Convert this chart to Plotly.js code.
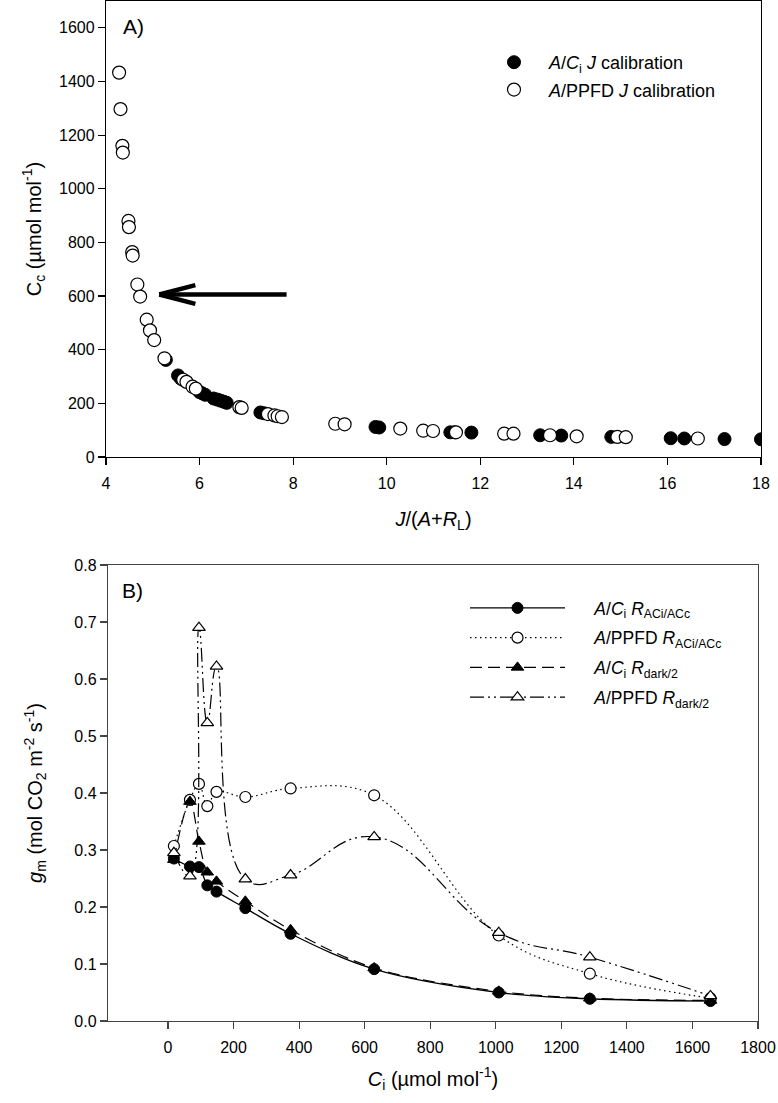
<!DOCTYPE html>
<html><head><meta charset="utf-8">
<script src="https://cdn.plot.ly/plotly-3.0.1.min.js"></script>
<style>body{margin:0;padding:0;background:#fff}#chart{width:778px;height:1103px}</style>
</head><body><div id="chart"></div>
<script>
// ---------- Panel A data ----------
const aciJ_x = [5.28, 5.54, 5.60, 6.00, 6.06, 6.12, 6.30, 6.38, 6.45, 6.52, 6.58, 7.30, 7.38, 9.76, 9.84, 11.36, 11.45, 11.81, 13.28, 13.73, 14.80, 16.07, 16.36, 17.22, 18.0];
const aciJ_y = [362, 304, 292, 242, 237, 232, 218, 214, 210, 206, 202, 166, 163, 112, 110, 92, 92, 91, 81, 80, 75, 70, 69, 67, 66];
const ppfdJ_x = [4.28, 4.31, 4.35, 4.36, 4.48, 4.49, 4.56, 4.57, 4.67, 4.73, 4.87, 4.94, 5.03, 5.25, 5.65, 5.72, 5.85, 5.92, 6.85, 6.90, 7.46, 7.60, 7.67, 7.76, 8.90, 9.10, 10.29, 10.78, 10.99, 11.48, 12.51, 12.71, 13.49, 14.06, 14.93, 15.11, 16.65];
const ppfdJ_y = [1433, 1297, 1160, 1135, 880, 857, 764, 751, 643, 598, 512, 472, 436, 368, 288, 280, 262, 255, 186, 183, 160, 155, 152, 149, 124, 122, 106, 98, 97, 92, 87, 87, 81, 77, 75, 74, 69];
const ticksA_x = [4, 6, 8, 10, 12, 14, 16, 18];
const ticksA_y = [0, 200, 400, 600, 800, 1000, 1200, 1400, 1600];
// arrow (tail -> tip), in data units of panel A
const arrowTail = [7.86, 606];
const arrowTip = [5.14, 606];

// ---------- Panel B data ----------
const ci = [18, 67, 94.5, 120, 148, 236, 374, 629, 1009, 1287, 1655];
const gm_aci_racc  = [0.285, 0.271, 0.270, 0.238, 0.227, 0.198, 0.153, 0.091, 0.050, 0.039, 0.035];
const gm_ppfd_racc = [0.307, 0.388, 0.416, 0.377, 0.402, 0.393, 0.408, 0.396, 0.150, 0.083, 0.040];
const gm_aci_rdark = [0.283, 0.385, 0.315, 0.261, 0.245, 0.210, 0.160, 0.093, 0.052, 0.040, 0.036];
const gm_ppfd_rdark= [0.295, 0.254, 0.690, 0.523, 0.622, 0.249, 0.256, 0.323, 0.155, 0.112, 0.044];
const ticksB_x = [0, 200, 400, 600, 800, 1000, 1200, 1400, 1600, 1800];
const ticksB_y = [0, 0.1, 0.2, 0.3, 0.4, 0.5, 0.6, 0.7, 0.8];

const FONT = 'Liberation Sans, Arial, sans-serif';
const W = 778, H = 1103;
const px = v => v / W, py = v => (H - v) / H;
const GAP_A = '\u00a0\u00a0\u00a0';
const GAP_B = '\u00a0\u00a0\u00a0\u00a0\u00a0';

const traces = [
  {x: aciJ_x, y: aciJ_y, type: 'scatter', mode: 'markers', xaxis: 'x', yaxis: 'y', legend: 'legend', legendgroup: 'a1',
   name: GAP_A + '<i>A</i>/<i>C</i><sub>i</sub> <i>J</i> calibration',
   marker: {symbol: 'circle', size: 13, color: '#000', line: {color: '#000', width: 1}}},
  {x: ppfdJ_x, y: ppfdJ_y, type: 'scatter', mode: 'markers', xaxis: 'x', yaxis: 'y', legend: 'legend', legendgroup: 'a2',
   name: GAP_A + '<i>A</i>/PPFD <i>J</i> calibration',
   marker: {symbol: 'circle', size: 13, color: '#fff', line: {color: '#000', width: 1.2}}},
  {x: ci, y: gm_aci_racc, type: 'scatter', mode: 'lines+markers', xaxis: 'x2', yaxis: 'y2', legend: 'legend2', legendgroup: 'b1',
   name: GAP_B + '<i>A</i>/<i>C</i><sub>i</sub> <i>R</i><sub>ACi/ACc</sub>',
   line: {color: '#000', width: 1.3, shape: 'spline', smoothing: 1},
   marker: {symbol: 'circle', size: 11, color: '#000', line: {color: '#000', width: 1}}},
  {x: ci, y: gm_ppfd_racc, type: 'scatter', mode: 'lines+markers', xaxis: 'x2', yaxis: 'y2', legend: 'legend2', legendgroup: 'b2',
   name: GAP_B + '<i>A</i>/PPFD <i>R</i><sub>ACi/ACc</sub>',
   line: {color: '#000', width: 1.2, dash: '1.5px,3.5px', shape: 'spline', smoothing: 1.1},
   marker: {symbol: 'circle', size: 11, color: '#fff', line: {color: '#000', width: 1.2}}},
  {x: ci, y: gm_aci_rdark, type: 'scatter', mode: 'lines+markers', xaxis: 'x2', yaxis: 'y2', legend: 'legend2', legendgroup: 'b3',
   name: GAP_B + '<i>A</i>/<i>C</i><sub>i</sub> <i>R</i><sub>dark/2</sub>',
   line: {color: '#000', width: 1.2, dash: '12px,6px', shape: 'spline', smoothing: 1},
   marker: {symbol: 'triangle-up', size: 11, color: '#000', line: {color: '#000', width: 1}}},
  {x: ci, y: gm_ppfd_rdark, type: 'scatter', mode: 'lines+markers', xaxis: 'x2', yaxis: 'y2', legend: 'legend2', legendgroup: 'b4',
   name: GAP_B + '<i>A</i>/PPFD <i>R</i><sub>dark/2</sub>',
   line: {color: '#000', width: 1.2, dash: '14px,4px,2px,4px,2px,4px', shape: 'spline', smoothing: 1.3},
   marker: {symbol: 'triangle-up', size: 11, color: '#fff', line: {color: '#000', width: 1.2}}}
];

const axisCommon = {
  showgrid: false, zeroline: false, showline: true, mirror: true,
  linecolor: '#000', linewidth: 1.2, ticks: 'outside', ticklen: 7, tickwidth: 1.2, tickcolor: '#000',
  tickfont: {family: FONT, size: 16, color: '#000'}, automargin: false
};
const TFONT = {family: FONT, size: 20, color: '#000'};

const layout = {
  width: W, height: H, margin: {l: 0, r: 0, t: 0, b: 0},
  paper_bgcolor: '#fff', plot_bgcolor: '#fff',
  font: {family: FONT, color: '#000'},
  xaxis: Object.assign({}, axisCommon, {
    domain: [px(106), px(761)], anchor: 'y', range: [4, 18],
    tickmode: 'array', tickvals: ticksA_x, ticklabelstandoff: 5,
    title: {text: '<i>J</i>/(<i>A</i>+<i>R</i><sub>L</sub>)', font: TFONT, standoff: 20}
  }),
  yaxis: Object.assign({}, axisCommon, {
    domain: [py(457), py(1)], anchor: 'x', range: [0, 1700],
    tickmode: 'array', tickvals: ticksA_y,
    title: {text: 'C<sub>c</sub> (µmol mol<sup>-1</sup>)', font: TFONT, standoff: 12}
  }),
  xaxis2: Object.assign({}, axisCommon, {
    domain: [px(108), px(758)], anchor: 'y2', range: [-183, 1800],
    linecolor: '#444', tickcolor: '#444',
    tickmode: 'array', tickvals: ticksB_x, ticklabelstandoff: 5,
    title: {text: '<i>C</i><sub>i</sub> (µmol mol<sup>-1</sup>)', font: TFONT, standoff: 16}
  }),
  yaxis2: Object.assign({}, axisCommon, {
    domain: [py(1021), py(565)], anchor: 'x2', range: [0, 0.8],
    linecolor: '#444', tickcolor: '#444',
    tickmode: 'array', tickvals: ticksB_y, tickformat: '.1f',
    title: {text: '<i>g</i><sub>m</sub> (mol CO<sub>2</sub> m<sup>-2</sup> s<sup>-1</sup>)', font: TFONT, standoff: 26}
  }),
  legend: {x: px(494), y: py(44), xanchor: 'left', yanchor: 'top', bgcolor: 'rgba(0,0,0,0)',
           font: {family: FONT, size: 18, color: '#000'}, itemwidth: 30, tracegroupgap: 1},
  legend2: {x: px(465), y: py(590), xanchor: 'left', yanchor: 'top', bgcolor: 'rgba(0,0,0,0)',
            font: {family: FONT, size: 17.5, color: '#000'}, itemwidth: 95, tracegroupgap: 4},
  showlegend: true,
  annotations: [
    {text: 'A)', xref: 'paper', yref: 'paper', x: px(133), y: py(27), xanchor: 'center', yanchor: 'middle',
     showarrow: false, font: {family: FONT, size: 21, color: '#000'}},
    {text: 'B)', xref: 'paper', yref: 'paper', x: px(132), y: py(590), xanchor: 'center', yanchor: 'middle',
     showarrow: false, font: {family: FONT, size: 21, color: '#000'}}
  ],
  shapes: [
    {type: 'line', xref: 'x', yref: 'y', x0: arrowTail[0], y0: arrowTail[1], x1: arrowTip[0], y1: arrowTip[1],
     line: {color: '#000', width: 4.5}},
    {type: 'line', xref: 'x', yref: 'y', x0: arrowTip[0], y0: arrowTip[1], x1: arrowTip[0] + 0.77, y1: arrowTip[1] + 35,
     line: {color: '#000', width: 4.5}},
    {type: 'line', xref: 'x', yref: 'y', x0: arrowTip[0], y0: arrowTip[1], x1: arrowTip[0] + 0.77, y1: arrowTip[1] - 35,
     line: {color: '#000', width: 4.5}}
  ]
};

Plotly.newPlot('chart', traces, layout, {displayModeBar: false, staticPlot: true});
</script>
</body></html>
